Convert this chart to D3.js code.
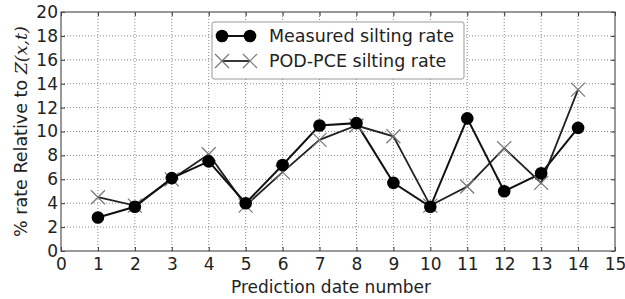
<!DOCTYPE html>
<html>
<head>
<meta charset="utf-8">
<script src="https://cdn.jsdelivr.net/npm/d3@7"></script>
<style>
body{margin:0;background:#fff;}
text{font-family:"DejaVu Sans",sans-serif;fill:#222;}
</style>
</head>
<body>
<div id="chart"></div>
<script>
var dates = [1,2,3,4,5,6,7,8,9,10,11,12,13,14];
var measured = [2.8,3.7,6.1,7.5,4.0,7.2,10.5,10.7,5.7,3.7,11.1,5.0,6.5,10.3];
var podpce = [4.5,3.8,6.0,8.1,3.8,6.6,9.3,10.5,9.6,3.8,5.4,8.6,5.7,13.5];
var xTicks = d3.range(0,16);
var yTicks = d3.range(0,21,2);

var W = 625, H = 299;
var m = {left:61, right:10, top:12, bottom:48};
var svg = d3.select("#chart").append("svg").attr("width",W).attr("height",H);
var x = d3.scaleLinear().domain([0,15]).range([m.left, 615]);
var y = d3.scaleLinear().domain([0,20]).range([251, m.top]);

// grid
svg.append("g").selectAll("line").data(xTicks.slice(1,-1)).enter().append("line")
    .attr("x1",function(d){return x(d);}).attr("x2",function(d){return x(d);})
    .attr("y1",y(0)).attr("y2",y(20))
    .attr("stroke","#888").attr("stroke-width",1).attr("stroke-dasharray","1,2");
svg.append("g").selectAll("line").data(yTicks.slice(1,-1)).enter().append("line")
    .attr("x1",x(0)).attr("x2",x(15))
    .attr("y1",function(d){return y(d);}).attr("y2",function(d){return y(d);})
    .attr("stroke","#888").attr("stroke-width",1).attr("stroke-dasharray","1,2");

// axes, ticks inside on all sides
svg.append("g").attr("transform","translate(0,"+y(0)+")")
    .call(d3.axisBottom(x).tickValues(xTicks).tickSize(-4).tickPadding(7).tickFormat(d3.format("d")))
    .call(function(g){g.select(".domain").remove();g.selectAll("text").attr("font-size",17);});
svg.append("g").attr("transform","translate(0,"+y(20)+")")
    .call(d3.axisTop(x).tickValues(xTicks).tickSize(-4).tickFormat(""))
    .call(function(g){g.select(".domain").remove();});
svg.append("g").attr("transform","translate("+x(0)+",0)")
    .call(d3.axisLeft(y).tickValues(yTicks).tickSize(-4).tickPadding(3).tickFormat(d3.format("d")))
    .call(function(g){g.select(".domain").remove();g.selectAll("text").attr("font-size",17);});
svg.append("g").attr("transform","translate("+x(15)+",0)")
    .call(d3.axisRight(y).tickValues(yTicks).tickSize(-4).tickFormat(""))
    .call(function(g){g.select(".domain").remove();});
svg.selectAll(".tick line").attr("stroke","#333");
svg.append("rect").attr("x",x(0)).attr("y",y(20)).attr("width",x(15)-x(0)).attr("height",y(0)-y(20))
    .attr("fill","none").attr("stroke","#555").attr("stroke-width",1.2);

// labels
svg.append("text").attr("x",(x(0)+x(15))/2 - 7).attr("y",293).attr("text-anchor","middle")
    .attr("font-size",17).text("Prediction date number");
var yl = svg.append("text").attr("transform","translate(27,"+((y(0)+y(20))/2)+") rotate(-90)")
    .attr("text-anchor","middle").attr("font-size",17.5);
yl.append("tspan").text("% rate Relative to ");
yl.append("tspan").attr("font-family","DejaVu Serif").attr("font-style","italic").text("Z(x,t)");

// lines
var lineM = d3.line().x(function(d,i){return x(dates[i]);}).y(function(d){return y(d);});
svg.append("path").datum(podpce).attr("d",lineM).attr("fill","none").attr("stroke","#222").attr("stroke-width",1.8);
svg.append("path").datum(measured).attr("d",lineM).attr("fill","none").attr("stroke","#111").attr("stroke-width",2);

var cross = function(g,cx,cy,s){
    g.append("path").attr("d","M"+(cx-s)+","+(cy-s)+"L"+(cx+s)+","+(cy+s)+"M"+(cx-s)+","+(cy+s)+"L"+(cx+s)+","+(cy-s))
        .attr("stroke","#777").attr("stroke-width",1.2);
};
var gx = svg.append("g");
podpce.forEach(function(d,i){cross(gx,x(dates[i]),y(d),7);});
svg.append("g").selectAll("circle").data(measured).enter().append("circle")
    .attr("cx",function(d,i){return x(dates[i]);}).attr("cy",function(d){return y(d);})
    .attr("r",6.3).attr("fill","#000");

// legend
var lg = svg.append("g");
lg.append("rect").attr("x",212).attr("y",22).attr("width",252).attr("height",57).attr("rx",2)
    .attr("fill","#fff").attr("stroke","#999").attr("stroke-width",1);
lg.append("line").attr("x1",222).attr("x2",250).attr("y1",36).attr("y2",36).attr("stroke","#111").attr("stroke-width",2);
lg.append("circle").attr("cx",222).attr("cy",36).attr("r",6.3).attr("fill","#000");
lg.append("circle").attr("cx",250).attr("cy",36).attr("r",6.3).attr("fill","#000");
lg.append("line").attr("x1",222).attr("x2",250).attr("y1",61).attr("y2",61).attr("stroke","#222").attr("stroke-width",1.8);
cross(lg,222,61,7); cross(lg,250,61,7);
lg.append("text").attr("x",269).attr("y",42).attr("font-size",17.5).text("Measured silting rate");
lg.append("text").attr("x",269).attr("y",67).attr("font-size",17.5).text("POD-PCE silting rate");
</script>
</body>
</html>
